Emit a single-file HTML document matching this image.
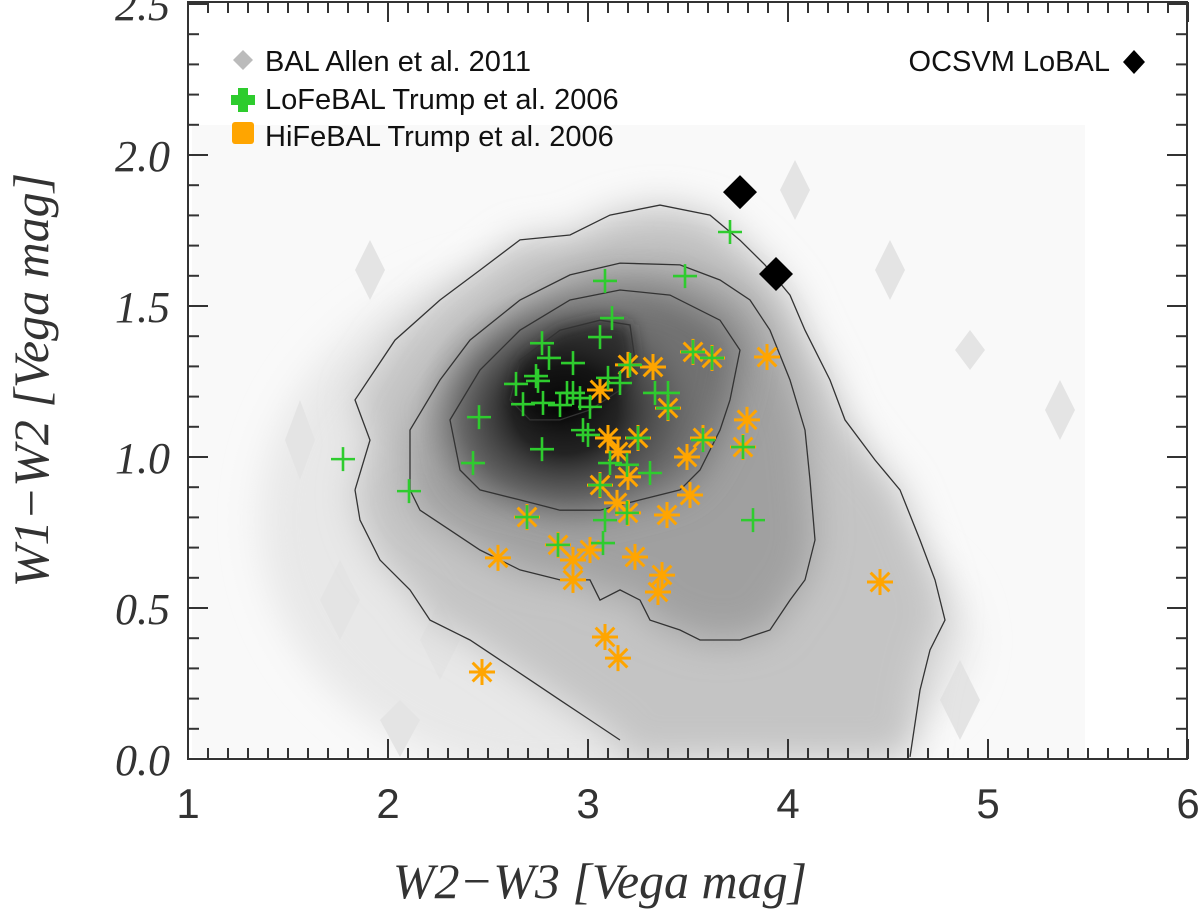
<!DOCTYPE html>
<html><head><meta charset="utf-8">
<style>
html,body{margin:0;padding:0;background:#fff;}
svg{display:block;}
.tk{stroke:#333;stroke-width:2;}
.ylab{font-family:"Liberation Serif",serif;font-style:italic;font-size:44px;fill:#333;}
.xlab{font-family:"Liberation Sans",sans-serif;font-size:42px;fill:#333;font-weight:300;}
.leg{font-family:"Liberation Sans",sans-serif;font-size:29px;fill:#111;}
.title{font-family:"Liberation Serif",serif;font-style:italic;font-size:50px;fill:#333;}
.ct{fill:none;stroke:#333;stroke-width:1.3;}
</style></head>
<body>
<svg id="chart" width="1200" height="910" viewBox="0 0 1200 910" xmlns="http://www.w3.org/2000/svg">
<defs>
<radialGradient id="g1" cx="0.5" cy="0.5" r="0.5">
<stop offset="0" stop-color="#000" stop-opacity="1"/>
<stop offset="0.35" stop-color="#111" stop-opacity="0.9"/>
<stop offset="0.7" stop-color="#444" stop-opacity="0.45"/>
<stop offset="1" stop-color="#888" stop-opacity="0"/>
</radialGradient>
<filter id="blur" x="-20%" y="-20%" width="140%" height="140%"><feGaussianBlur stdDeviation="18"/></filter>
<filter id="blur2" x="-20%" y="-20%" width="140%" height="140%"><feGaussianBlur stdDeviation="8"/></filter>
<clipPath id="plotclip"><rect x="188" y="2" width="999" height="757"/></clipPath>
</defs>
<g id="density" clip-path="url(#plotclip)">
<rect x="192" y="125" width="893" height="632" fill="#f9f9f9"/>
<ellipse cx="560" cy="520" rx="300" ry="260" fill="#e8e8e8" filter="url(#blur)"/>
<ellipse cx="820" cy="640" rx="150" ry="110" fill="#e6e6e6" filter="url(#blur)"/>
<g fill="#e4e4e4">
<polygon points="370,240 385,270 370,300 355,270"/><polygon points="300,400 315,440 300,480 285,440"/>
<polygon points="890,240 905,270 890,300 875,270"/><polygon points="970,330 985,350 970,370 955,350"/>
<polygon points="795,160 810,190 795,220 780,190"/><polygon points="400,700 420,720 400,757 380,720"/>
<polygon points="1060,380 1075,410 1060,440 1045,410"/><polygon points="960,660 980,700 960,740 940,700"/>
<polygon points="440,600 460,640 440,680 420,640"/><polygon points="340,560 360,600 340,640 320,600"/>
</g>
<g id="fills"></g>
<ellipse cx="565" cy="410" rx="150" ry="125" fill="url(#g1)" opacity="0.9"/>
</g>
<g id="contours"></g>
<g id="frame">
<rect x="188" y="2" width="999" height="757" fill="none" stroke="#333" stroke-width="2"/>
</g>
<g id="ticks"></g>
<g id="marks"></g>
<g>
<polygon points="243,50 253,60 243,70 233,60" fill="#bbb"/>
<text class="leg" x="265" y="71">BAL Allen et al. 2011</text>
<path d="M238,88h10v7h7v10h-7v7h-10v-7h-7v-10h7z" fill="#2ecc2e"/>
<text class="leg" x="265" y="109">LoFeBAL Trump et al. 2006</text>
<rect x="232" y="122" width="22" height="22" rx="3" fill="#ffa500"/>
<text class="leg" x="265" y="146">HiFeBAL Trump et al. 2006</text>
<text class="leg" x="1110" y="71" text-anchor="end">OCSVM LoBAL</text>
<polygon points="1134,50 1145,62 1134,74 1123,62" fill="#000"/>
</g>
<text class="title" x="600" y="898" text-anchor="middle">W2−W3 [Vega mag]</text>
<text class="title" transform="translate(48,380) rotate(-90)" text-anchor="middle">W1−W2 [Vega mag]</text>
</svg>
<script>
const xTicks=[1,2,3,4,5,6];
const yTicks=[0.0,0.5,1.0,1.5,2.0,2.5];
const yTickLabels=["0.0","0.5","1.0","1.5","2.0","2.5"];
const loX=[1.775,2.105,2.455,2.425,2.695,2.77,2.77,2.805,2.925,3.085,3.12,3.06,2.64,2.675,2.74,2.75,2.775,2.86,2.895,2.925,2.96,3.01,2.975,3.0,3.10,3.16,3.21,3.335,3.40,3.485,3.525,3.62,3.575,3.775,3.825,3.25,3.11,3.195,3.31,3.06,3.195,3.085,2.85,3.075,3.40,3.71];
const loY=[0.993,0.887,1.132,0.980,0.801,1.026,1.377,1.328,1.311,1.583,1.460,1.397,1.242,1.175,1.268,1.252,1.179,1.172,1.212,1.212,1.195,1.166,1.089,1.073,1.262,1.245,1.305,1.212,1.212,1.599,1.348,1.328,1.056,1.033,0.791,1.063,0.980,0.974,0.947,0.907,0.815,0.791,0.709,0.715,1.162,1.745];
const hiX=[2.55,2.695,2.85,2.925,3.01,2.925,3.06,3.325,3.20,3.525,3.62,3.895,3.40,3.795,3.775,3.575,3.495,3.10,3.25,3.15,3.20,3.06,3.145,3.20,3.395,3.51,3.235,3.37,3.35,3.085,3.15,2.47,4.46];
const hiY=[0.666,0.801,0.709,0.659,0.692,0.593,1.222,1.298,1.305,1.348,1.328,1.331,1.162,1.123,1.033,1.063,1.0,1.063,1.063,1.017,0.934,0.907,0.848,0.815,0.808,0.874,0.669,0.609,0.553,0.404,0.334,0.288,0.586];
const ocX=[3.76,3.94];
const ocY=[1.877,1.606];
const c1X=[1.835,1.91,1.835,2.035,2.26,2.46,2.66,2.91,3.11,3.36,3.61,3.76,3.885,4.01,4.085,4.21,4.285,4.435,4.56,4.66,4.735,4.785,4.71,4.66,4.61];
const c1Y=[0.891,1.056,1.189,1.387,1.52,1.619,1.719,1.735,1.801,1.834,1.801,1.718,1.636,1.536,1.42,1.255,1.123,0.99,0.891,0.725,0.593,0.460,0.361,0.228,0.007];
const c1bX=[1.835,1.86,1.96,2.11,2.21,2.41,2.56,2.71,2.86,3.01,3.16];
const c1bY=[0.891,0.791,0.659,0.56,0.460,0.394,0.328,0.262,0.195,0.129,0.063];
const c2X=[2.11,2.11,2.26,2.41,2.66,2.91,3.16,3.46,3.66,3.81,3.91,4.01,4.085,4.11,4.135,4.085,4.01,3.91,3.76,3.56,3.46,3.31,3.26,3.16,3.06,3.01,2.86,2.66,2.46,2.31,2.16];
const c2Y=[0.891,1.089,1.255,1.387,1.52,1.603,1.642,1.636,1.586,1.52,1.42,1.255,1.089,0.924,0.725,0.593,0.526,0.427,0.394,0.394,0.427,0.460,0.526,0.560,0.526,0.593,0.593,0.626,0.692,0.758,0.824];
const c3X=[2.36,2.31,2.46,2.66,2.91,3.16,3.41,3.66,3.76,3.71,3.66,3.56,3.46,3.26,3.06,2.86,2.66,2.46];
const c3Y=[0.957,1.123,1.288,1.42,1.52,1.553,1.536,1.453,1.354,1.189,1.089,0.957,0.891,0.858,0.824,0.824,0.858,0.891];
const c4X=[2.61,2.66,2.86,3.06,3.21,3.235,3.16,3.01,2.86,2.71];
const c4Y=[1.189,1.321,1.42,1.453,1.437,1.321,1.222,1.156,1.123,1.123];

const NS="http://www.w3.org/2000/svg";
function xs(v){return 188+(v-1)*200;}
function ys(v){return 759-v*302;}
function mk(tag,attrs,parent){const e=document.createElementNS(NS,tag);for(const k in attrs)e.setAttribute(k,attrs[k]);parent.appendChild(e);return e;}
function pathOf(X,Y,close){let d='';for(let i=0;i<X.length;i++){d+=(i?'L':'M')+xs(X[i]).toFixed(1)+','+ys(Y[i]).toFixed(1);}return close?d+'Z':d;}

// blurred filled levels for the density shading
const fg=document.getElementById('fills');
const outerFill=pathOf(c1X.concat([4.61,3.16]),c1Y.concat([0.0,0.0]),false)+pathOf(c1bX.slice().reverse(),c1bY.slice().reverse(),false).replace('M','L')+'Z';
[[outerFill,'#c4c4c4',"url(#blur)"],[pathOf(c2X,c2Y,true),'#a0a0a0',"url(#blur)"],[pathOf(c3X,c3Y,true),'#707070',"url(#blur)"],[pathOf(c4X,c4Y,true),'#202020',"url(#blur2)"]].forEach(function(f){
  mk('path',{d:f[0],fill:f[1],filter:f[2]},fg);
});

const cg=document.getElementById('contours');
[[c1X,c1Y,false,'contour-outer'],[c1bX,c1bY,false,'contour-outer-lower'],[c2X,c2Y,true,'contour-level-2'],[c3X,c3Y,true,'contour-level-3'],[c4X,c4Y,true,'contour-inner']].forEach(function(c){
  const p=mk('path',{d:pathOf(c[0],c[1],c[2]),class:'ct'},cg);
  if(c[3]==='contour-inner'){p.setAttribute('stroke','#666');}
  
  
});

const tg=document.getElementById('ticks');
for(let i=0;i<=50;i++){
  const v=1+i*0.1;const x=xs(v);const L=(i%10===0)?20:11;
  mk('line',{x1:x,y1:759,x2:x,y2:759-L,class:'tk'},tg);
  mk('line',{x1:x,y1:2,x2:x,y2:2+L,class:'tk'},tg);
}
for(let i=0;i<=25;i++){
  const v=i*0.1;const y=ys(v);const L=(i%5===0)?20:11;
  mk('line',{x1:188,y1:y,x2:188+L,y2:y,class:'tk'},tg);
  mk('line',{x1:1187,y1:y,x2:1187-L,y2:y,class:'tk'},tg);
}
xTicks.forEach(function(v){
  const t=mk('text',{x:xs(v),y:818,class:'xlab','text-anchor':'middle'},tg);
  t.textContent=String(v);
  
  
});
yTicks.forEach(function(v,i){
  const t=mk('text',{x:170,y:ys(v)+16,class:'ylab','text-anchor':'end'},tg);
  t.textContent=yTickLabels[i];
  
  
});

const mg=document.getElementById('marks');
for(let i=0;i<hiX.length;i++){
  const x=xs(hiX[i]),y=ys(hiY[i]),r=13;
  const g=mk('g',{stroke:'#ffa500','stroke-width':3},mg);
  
  
  mk('line',{x1:x-r,y1:y,x2:x+r,y2:y},g);
  mk('line',{x1:x,y1:y-r,x2:x,y2:y+r},g);
  mk('line',{x1:x-r*0.72,y1:y-r*0.72,x2:x+r*0.72,y2:y+r*0.72},g);
  mk('line',{x1:x-r*0.72,y1:y+r*0.72,x2:x+r*0.72,y2:y-r*0.72},g);
}
for(let i=0;i<loX.length;i++){
  const x=xs(loX[i]),y=ys(loY[i]),r=12;
  const g=mk('g',{stroke:'#2ecc2e','stroke-width':2.6},mg);
  
  
  mk('line',{x1:x-r,y1:y,x2:x+r,y2:y},g);
  mk('line',{x1:x,y1:y-r,x2:x,y2:y+r},g);
}
for(let i=0;i<ocX.length;i++){
  const x=xs(ocX[i]),y=ys(ocY[i]),r=17;
  const p=mk('polygon',{points:(x)+','+(y-r)+' '+(x+r)+','+y+' '+x+','+(y+r)+' '+(x-r)+','+y,fill:'#000'},mg);
  
  
}
</script>
</body></html>
